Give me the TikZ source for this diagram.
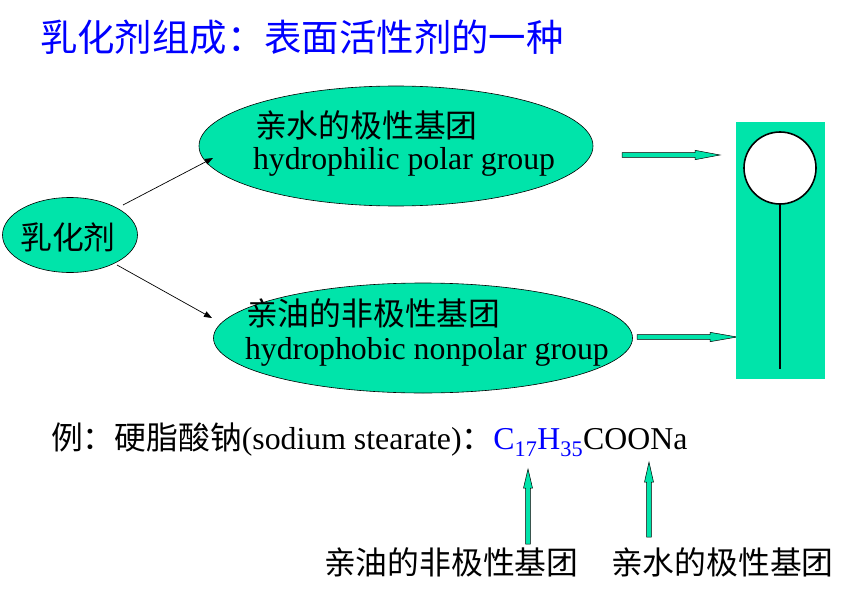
\documentclass[tikz,border=0pt]{standalone}
\usepackage{fontspec}
\setmainfont{Liberation Serif}
\newfontfamily\cjk{Noto Sans CJK SC}
\usetikzlibrary{arrows.meta,shapes.geometric}
\definecolor{mint}{RGB}{0,228,170}
\begin{document}
\begin{tikzpicture}[x=1pt,y=-1pt,
  every node/.style={inner sep=0pt,outer sep=0pt},
  bubble/.style={ellipse,draw=black,line width=0.6pt,fill=mint},
  zh/.style={anchor=west,font=\cjk\fontsize{31.8}{38}\selectfont},
  en/.style={anchor=west,font=\fontsize{31.8}{38}\selectfont},
  link/.style={-{Triangle[length=8pt,width=6pt]},line width=0.7pt},
  blockarrow/.style={fill=mint,draw=black,line width=0.5pt}]
\useasboundingbox (0,0) rectangle (853,599);

% title
\node[anchor=west,text=blue,font=\cjk\fontsize{37.4}{42}\selectfont] (title) at (40,37) {乳化剂组成：表面活性剂的一种};

% ellipses
\node[bubble,minimum width=135pt,minimum height=75pt] (ru) at (70,235) {};
\node[font=\cjk\fontsize{31.8}{38}\selectfont] (rutext) at (68,237) {乳化剂};

\node[bubble,minimum width=394pt,minimum height=120pt] (top) at (396,146) {};
\node[zh] (topzh) at (255,125) {亲水的极性基团};
\node[en] (topen) at (253,162) {hydrophilic polar group};

\node[bubble,minimum width=419pt,minimum height=110pt] (bot) at (423,338) {};
\node[zh] (botzh) at (246,313) {亲油的非极性基团};
\node[en] (boten) at (245,352) {hydrophobic nonpolar group};

% thin arrows
\coordinate (s1) at (123,205);
\coordinate (e1) at (213,158);
\coordinate (s2) at (117,265);
\coordinate (e2) at (212,318);
\draw[link] (s1) -- (e1);
\draw[link] (s2) -- (e2);

% horizontal block arrows
\filldraw[blockarrow] (622,152.7) -- (695,152.7) -- (695,150.3) -- (720,155) -- (695,159.7) -- (695,157.3) -- (622,157.3) -- cycle;
\filldraw[blockarrow] (637,334.7) -- (710,334.7) -- (710,332.3) -- (737,337) -- (710,341.7) -- (710,339.3) -- (637,339.3) -- cycle;

% surfactant symbol
\fill[mint] (736,122) rectangle (825,379);
\draw[line width=1.6pt] (780,204) -- (780,369);
\filldraw[fill=white,draw=black,line width=1.6pt] (780,168) circle[radius=36];

% example line
\node[anchor=west,font=\fontsize{31.8}{38}\selectfont] (ex) at (51,440)
  {{\cjk 例：硬脂酸钠}(sodium stearate){\cjk ：}\textcolor{blue}{C\textsubscript{17}H\textsubscript{35}}COONa};

% vertical block arrows
\filldraw[blockarrow] (525.7,544) -- (525.7,488) -- (523.5,488) -- (528,469) -- (532.5,488) -- (530.3,488) -- (530.3,544) -- cycle;
\filldraw[blockarrow] (646.7,537) -- (646.7,482) -- (644.5,482) -- (649,462) -- (653.5,482) -- (651.3,482) -- (651.3,537) -- cycle;

% bottom labels
\node[zh] (lipo) at (324,562) {亲油的非极性基团};
\node[zh] (hydro) at (611,562) {亲水的极性基团};
\end{tikzpicture}
\end{document}
